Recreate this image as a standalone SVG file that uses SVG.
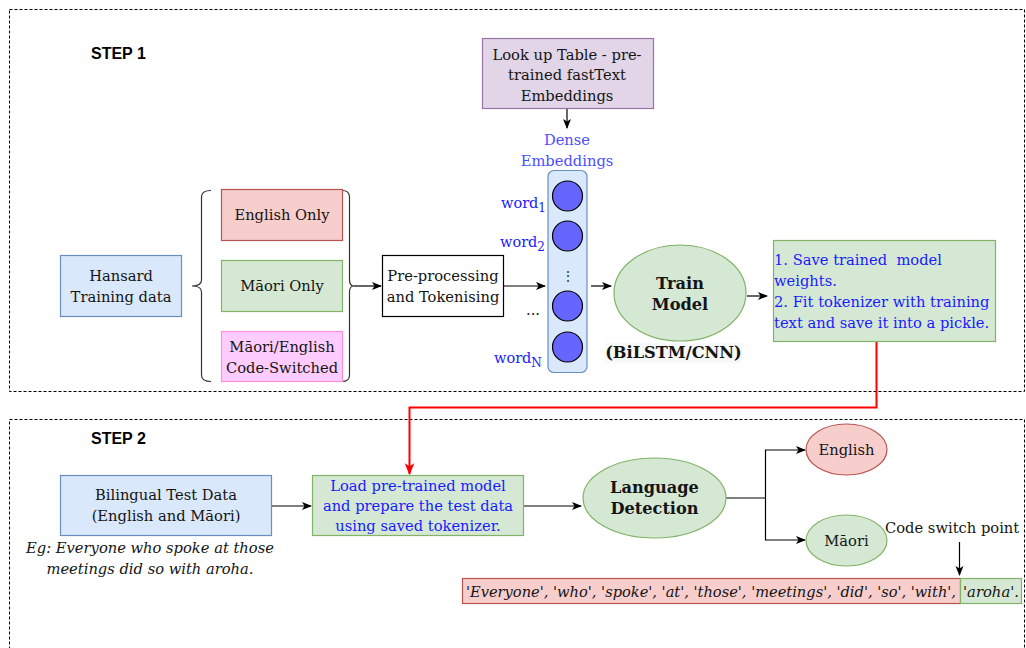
<svg xmlns="http://www.w3.org/2000/svg" width="1026" height="648" viewBox="0 0 1026 648">
<defs>
<style>
.t{font-family:"DejaVu Serif","Liberation Serif",serif;font-size:14.7px;fill:#141414}
.c{text-anchor:middle}
.b{font-weight:bold;font-size:16.2px}
.i{font-style:italic}
.blue{fill:#1a1aff}
.lblue{fill:#4d4dff}
.w{font-size:14.5px}
.sub{font-size:12px}
.sm{font-size:12px}
.step{font-family:"Liberation Sans",Arial,sans-serif;font-size:16px;font-weight:bold;fill:#000}
.frame{fill:none;stroke:#000;stroke-width:1;stroke-dasharray:3 2}
.edge{fill:none;stroke:#000;stroke-width:1.2}
.blueN{fill:#dae8fc;stroke:#6c8ebf;stroke-width:1.2}
.redN{fill:#f8cecc;stroke:#b85450;stroke-width:1.2}
.greenN{fill:#d5e8d4;stroke:#82b366;stroke-width:1.2}
.pinkN{fill:#ffccff;stroke:#ff8fd8;stroke-width:1.2}
.purpleN{fill:#e1d5e7;stroke:#9673a6;stroke-width:1.2}
.circ{fill:#6666ff;stroke:#000;stroke-width:1.2}
</style>
<marker id="ah" viewBox="0 0 10 10" refX="9" refY="5" markerWidth="10" markerHeight="10" markerUnits="userSpaceOnUse" orient="auto">
<path d="M0,1 L10,5 L0,9 L2.5,5 z" fill="#000"/>
</marker>
<marker id="ahr" viewBox="0 0 10 10" refX="9" refY="5" markerWidth="12" markerHeight="12" markerUnits="userSpaceOnUse" orient="auto">
<path d="M0,1 L10,5 L0,9 L2.5,5 z" fill="#ff0000"/>
</marker>
</defs>
<rect width="1026" height="648" fill="#fff"/>

<g id="step1">
<rect class="frame" x="9.5" y="9.5" width="1015" height="382"/>
<text class="step" x="91" y="59">STEP 1</text>
</g>
<g id="step2">
<rect class="frame" x="9.5" y="419.5" width="1015" height="260"/>
<text class="step" x="91" y="444">STEP 2</text>
</g>

<g id="connectors">
<path class="edge" d="M567,108 V128" marker-end="url(#ah)"/>
<path class="edge" d="M354,286 H381" marker-end="url(#ah)"/>
<path class="edge" d="M503,286 H545" marker-end="url(#ah)"/>
<path class="edge" d="M591,286 H611" marker-end="url(#ah)"/>
<path class="edge" d="M747,296 H767" marker-end="url(#ah)"/>
<path d="M876.5,341 V407.5 H409.5 V474" fill="none" stroke="#ff0000" stroke-width="2" marker-end="url(#ahr)"/>
<path class="edge" d="M272,506 H311" marker-end="url(#ah)"/>
<path class="edge" d="M523,506 H581" marker-end="url(#ah)"/>
<path class="edge" d="M726,498 H765.5 V450 H805" marker-end="url(#ah)"/>
<path class="edge" d="M765.5,498 V540 H805" marker-end="url(#ah)"/>
<path class="edge" d="M959.5,542 V575" marker-end="url(#ah)"/>
</g>

<g id="lookup">
<rect class="purpleN" x="482.5" y="38.5" width="171" height="70"/>
<text class="t c" x="567" y="60">Look up Table - pre-</text>
<text class="t c" x="567" y="80">trained fastText</text>
<text class="t c" x="567" y="101">Embeddings</text>
</g>

<g id="dense">
<text class="t c lblue" x="567" y="145">Dense</text>
<text class="t c lblue" x="567" y="166">Embeddings</text>
<rect class="blueN" x="548" y="170.5" width="39" height="202" rx="6"/>
<circle class="circ" cx="567.5" cy="196" r="15"/>
<circle class="circ" cx="567.5" cy="236" r="15"/>
<text class="t c sm" x="567.5" y="280">⋮</text>
<circle class="circ" cx="567.5" cy="306" r="15"/>
<circle class="circ" cx="567.5" cy="347" r="15"/>
<text class="t blue w" x="501" y="208">word<tspan class="sub" dy="4">1</tspan></text>
<text class="t blue w" x="500" y="247">word<tspan class="sub" dy="4">2</tspan></text>
<text class="t blue w" x="494" y="363">word<tspan class="sub" dy="4">N</tspan></text>
<text class="t c" x="533" y="315">...</text>
</g>

<g id="hansard">
<rect class="blueN" x="60.5" y="255.5" width="121" height="61"/>
<text class="t c" x="121" y="281">Hansard</text>
<text class="t c" x="121" y="302">Training data</text>
</g>

<g id="braces">
<path d="M211,190.5 Q201.5,190.5 201.5,197 V280 Q201.5,286 192,286 Q201.5,286 201.5,292 V375 Q201.5,381.5 211,381.5" fill="none" stroke="#333" stroke-width="1.2"/>
<path d="M342,190.5 Q349.5,190.5 349.5,197 V280 Q349.5,286 354,286 Q349.5,286 349.5,292 V375 Q349.5,381.5 342,381.5" fill="none" stroke="#333" stroke-width="1.2"/>
</g>

<g id="english-only">
<rect class="redN" x="221.5" y="189.5" width="121" height="51"/>
<text class="t c" x="282" y="220">English Only</text>
</g>
<g id="maori-only">
<rect class="greenN" x="221.5" y="260.5" width="121" height="51"/>
<text class="t c" x="282" y="291">Māori Only</text>
</g>
<g id="code-switched">
<rect class="pinkN" x="221.5" y="331.5" width="121" height="50"/>
<text class="t c" x="282" y="352">Māori/English</text>
<text class="t c" x="282" y="373">Code-Switched</text>
</g>

<g id="preprocess">
<rect x="382.5" y="255.5" width="121" height="61" fill="#fff" stroke="#000" stroke-width="1.2"/>
<text class="t c" x="443" y="281">Pre-processing</text>
<text class="t c" x="443" y="302">and Tokenising</text>
</g>

<g id="train">
<ellipse class="greenN" cx="680" cy="293" rx="66" ry="48"/>
<text class="t c b" x="680" y="289">Train</text>
<text class="t c b" x="680" y="310">Model</text>
<rect x="605" y="343" width="137" height="20" fill="#f7f8f8"/>
<text class="t c b" x="673.5" y="358">(BiLSTM/CNN)</text>
</g>

<g id="save">
<rect class="greenN" x="773.5" y="240.5" width="222" height="101"/>
<text class="t blue" x="774" y="265" xml:space="preserve">1. Save trained  model</text>
<text class="t blue" x="774" y="286">weights.</text>
<text class="t blue" x="774" y="307">2. Fit tokenizer with training</text>
<text class="t blue" x="774" y="328">text and save it into a pickle.</text>
</g>

<g id="bilingual">
<rect class="blueN" x="60.5" y="475.5" width="211" height="60"/>
<text class="t c" x="166" y="500">Bilingual Test Data</text>
<text class="t c" x="166" y="521">(English and Māori)</text>
<text class="t c i" x="150" y="553">Eg: Everyone who spoke at those</text>
<text class="t c i" x="150" y="574">meetings did so with aroha.</text>
</g>

<g id="load">
<rect class="greenN" x="312.5" y="475.5" width="211" height="60"/>
<text class="t c blue" x="418" y="491">Load pre-trained model</text>
<text class="t c blue" x="418" y="511">and prepare the test data</text>
<text class="t c blue" x="418" y="531">using saved tokenizer.</text>
</g>

<g id="detection">
<ellipse class="greenN" cx="654.5" cy="498" rx="71.5" ry="40"/>
<text class="t c b" x="654.5" y="493">Language</text>
<text class="t c b" x="654.5" y="514">Detection</text>
</g>

<g id="english">
<ellipse class="redN" cx="846.5" cy="449.5" rx="40.5" ry="25.5"/>
<text class="t c" x="846.5" y="455">English</text>
</g>
<g id="maori">
<ellipse class="greenN" cx="846.5" cy="540.5" rx="40.5" ry="25.5"/>
<text class="t c" x="846.5" y="546">Māori</text>
</g>

<g id="switch-label">
<text class="t" x="885" y="533">Code switch point</text>
</g>

<g id="sentence">
<rect class="redN" x="462.5" y="578.5" width="498" height="25"/>
<rect class="greenN" x="960.5" y="578.5" width="61" height="25"/>
<text class="t i" x="466" y="597" textLength="490" lengthAdjust="spacingAndGlyphs">'Everyone', 'who', 'spoke', 'at', 'those', 'meetings', 'did', 'so', 'with',</text>
<text class="t i" x="963" y="597" textLength="56" lengthAdjust="spacingAndGlyphs">'aroha'.</text>
</g>
</svg>
